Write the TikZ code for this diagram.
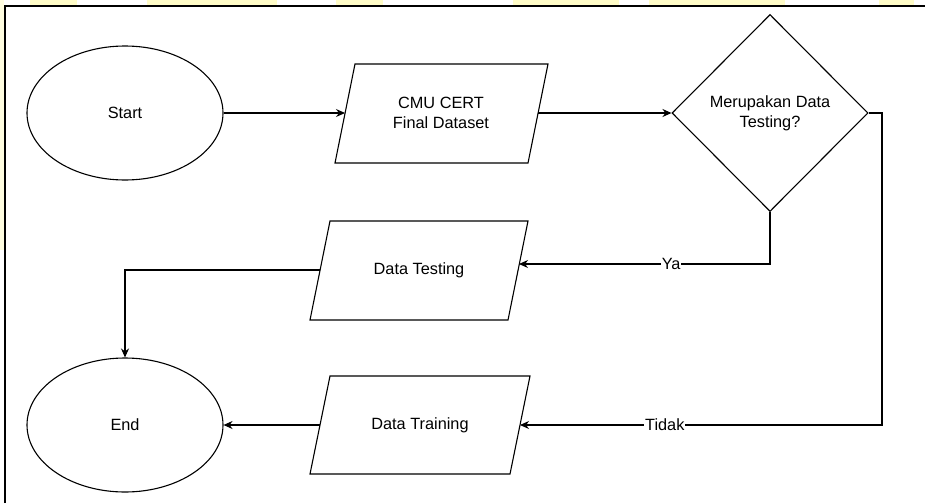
\documentclass[tikz,border=0pt]{standalone}
\usepackage{fontspec}
\setmainfont{Liberation Sans}
\usetikzlibrary{shapes.geometric,arrows.meta}
\begin{document}
\begin{tikzpicture}[x=1pt,y=-1pt,
  lw/.style={line width=1.1pt},
  term/.style={ellipse,draw,lw,minimum width=196pt,minimum height=134pt,inner sep=0pt,font=\fontsize{16.3}{20}\selectfont},
  txt/.style={align=center,font=\fontsize{16.3}{20}\selectfont},
  dec/.style={diamond,draw,lw,minimum width=196pt,minimum height=197pt,inner sep=0pt,align=center,font=\fontsize{16.3}{20}\selectfont},
  para/.style={draw,lw,line join=miter},
  conn/.style={lw,-{Stealth[length=9pt,width=8pt]}},
  lab/.style={fill=white,inner sep=1pt,font=\fontsize{16.3}{20}\selectfont}]
\useasboundingbox (0,0) rectangle (925,503);
\fill[white] (0,0) rectangle (925,503);
% faint watermark at the top
\foreach \a/\b in {30/77,147/277,336/383,513/619,649/785,879/914}
  \fill[yellow!22] (\a,0) rectangle (\b,5);
\fill[yellow!12] (0,0) rectangle (4,250);
% outer frame
\draw[line width=1.6pt] (5,503) -- (5,6) -- (925,6);

% terminals
\node[term] (start) at (125,113) {Start};
\node[term] (end) at (125,425) {End};

% CMU parallelogram
\draw[para] (355,64) -- (548,64) -- (528,163) -- (335,163) -- cycle;
\node[txt] (cmu) at (441,113) {CMU CERT\\Final Dataset};
\coordinate (cmuW) at (345,113);
\coordinate (cmuE) at (538,113);

% decision
\node[dec] (dec) at (770,113) {Merupakan Data\\Testing?};

% Data Testing
\draw[para] (330,221) -- (528,221) -- (508,320) -- (310,320) -- cycle;
\node[txt] (dtest) at (419,270) {Data Testing};
\coordinate (dtestE) at (519,264);
\coordinate (dtestW) at (320,270);

% Data Training
\draw[para] (330,376) -- (530,376) -- (510,474) -- (310,474) -- cycle;
\node[txt] (dtrain) at (420,425) {Data Training};
\coordinate (dtrainE) at (520,425);
\coordinate (dtrainW) at (320,425);

% connectors
\draw[conn] (start.east) -- (cmuW);
\draw[conn] (cmuE) -- (dec.west);
\draw[conn] (dec.south) |- (dtestE) node[lab,pos=0.697] {Ya};
\draw[conn] (dec.east) -- (882,113) |- (dtrainE) node[lab,pos=0.8] {Tidak};
\draw[conn] (dtestW) -| (end.north);
\draw[conn] (dtrainW) -- (end.east);
\end{tikzpicture}
\end{document}
